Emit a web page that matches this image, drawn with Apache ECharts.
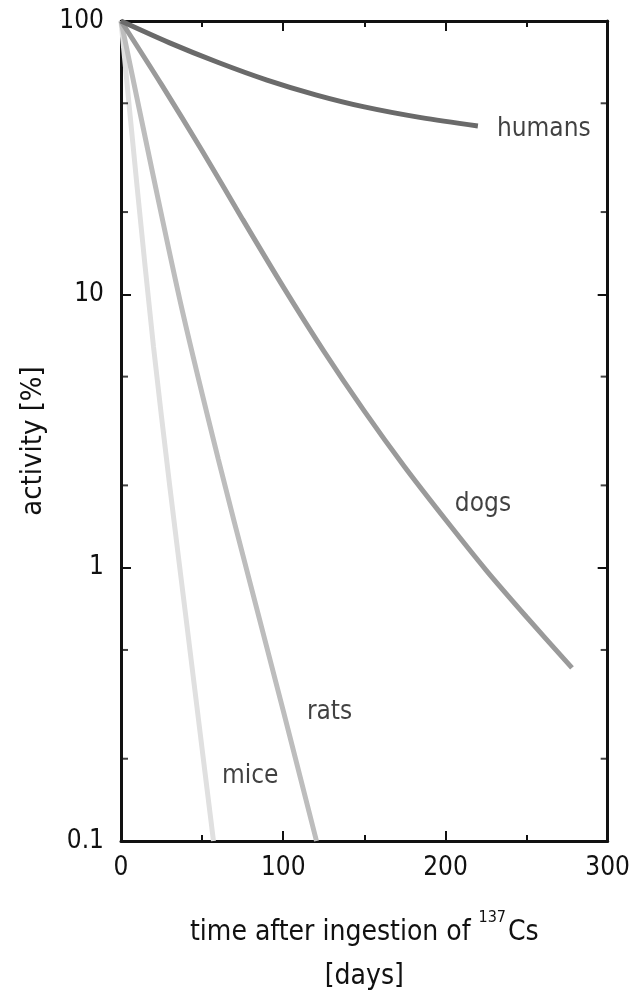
<!DOCTYPE html>
<html>
<head>
<meta charset="utf-8">
<script src="https://cdn.jsdelivr.net/npm/echarts@6/dist/echarts.min.js"></script>
<style>
html,body{margin:0;padding:0;background:#fff;}
#chart{width:633px;height:1004px;}
</style>
</head>
<body>
<div id="chart"></div>
<script>
// ---- data ----
const humansT = [0, 30, 60, 90, 120, 150, 185, 220];
const humansV = [100, 83.2, 70.5, 60.8, 53.7, 48.5, 44.3, 41.3];

const dogsT = [0, 25, 50, 75, 100, 125, 150, 175, 200, 225, 250, 278];
const dogsV = [100, 58.5, 33.5, 18.8, 10.65, 6.2, 3.74, 2.33, 1.5, 0.98, 0.66, 0.43];

const ratsT = [0, 20, 38, 60, 80, 100, 120.5];
const ratsV = [100, 26.9, 8.61, 2.49, 0.86, 0.3, 0.1];

const miceT = [0, 10, 20, 30, 40, 50, 57];
const miceV = [100, 24.5, 6.46, 2.0, 0.66, 0.217, 0.1];

const labelNames = ['humans', 'dogs', 'rats', 'mice'];
const labelT = [231.7, 205.8, 114.6, 62.2];
const labelV = [40.3, 1.7, 0.295, 0.172];

const xTicks = [0, 100, 200, 300];
const yTicks = [0.1, 1, 10, 100];
const yMinorTicks = [0.2, 0.5, 2, 5, 20, 50];

// ---- chart ----
const FONT = "'Liberation Sans Narrow', 'DejaVu Sans Condensed', 'Roboto', sans-serif";
const pairs = (T, V) => T.map((t, i) => [t, V[i]]);
const AX = '#111';
const TXT = '#111';

function lineSeries(name, T, V, color) {
  return {
    name, type: 'line', data: pairs(T, V), smooth: 0.3,
    showSymbol: false, symbol: 'none', xAxisIndex: 0, yAxisIndex: 0,
    lineStyle: { color, width: 5, cap: 'butt' }, z: 2, silent: true, animation: false
  };
}

const chart = echarts.init(document.getElementById('chart'), null, { renderer: 'canvas' });
const option = {
  animation: false,
  backgroundColor: '#fff',
  textStyle: { fontFamily: FONT },
  grid: { left: 121, right: 25, top: 21, bottom: 154, containLabel: false },
  xAxis: [
    {
      type: 'value', min: xTicks[0], max: xTicks[xTicks.length - 1], interval: 100,
      position: 'bottom',
      axisLine: { show: true, onZero: false, lineStyle: { color: AX, width: 3 } },
      axisTick: { show: true, inside: true, length: 10, lineStyle: { color: AX, width: 2 } },
      minorTick: { show: true, splitNumber: 2, length: 6, lineStyle: { color: AX, width: 2 } },
      splitLine: { show: false },
      axisLabel: { fontSize: 26, color: TXT, margin: 14, fontFamily: FONT },
      name: 'time after ingestion of {sup|137}Cs\n[days]',
      nameLocation: 'middle', nameGap: 70,
      nameTextStyle: {
        fontSize: 28, color: TXT, fontFamily: FONT, lineHeight: 44,
        rich: { sup: { fontSize: 16, fontFamily: FONT, color: TXT, padding: [0, 2, 30, 0] } }
      }
    },
    {
      type: 'value', min: xTicks[0], max: xTicks[xTicks.length - 1], interval: 100,
      position: 'top',
      axisLine: { show: true, onZero: false, lineStyle: { color: AX, width: 3 } },
      axisTick: { show: true, inside: true, length: 10, lineStyle: { color: AX, width: 2 } },
      minorTick: { show: true, splitNumber: 2, length: 6, lineStyle: { color: AX, width: 2 } },
      splitLine: { show: false }, axisLabel: { show: false }
    }
  ],
  yAxis: [
    {
      type: 'log', logBase: 10, min: yTicks[0], max: yTicks[yTicks.length - 1],
      position: 'left',
      axisLine: { show: true, onZero: false, lineStyle: { color: AX, width: 3 } },
      axisTick: { show: true, inside: true, length: 10, lineStyle: { color: AX, width: 2 } },
      splitLine: { show: false },
      axisLabel: { fontSize: 26, color: TXT, margin: 17, fontFamily: FONT,
        formatter: v => String(+v.toPrecision(3)) },
      name: 'activity [%]', nameLocation: 'middle', nameGap: 54, nameRotate: 90,
      nameTextStyle: { fontSize: 29, color: TXT, fontFamily: FONT, padding: [0, 20, 0, 0] }
    },
    {
      type: 'log', logBase: 10, min: yTicks[0], max: yTicks[yTicks.length - 1],
      position: 'right',
      axisLine: { show: true, onZero: false, lineStyle: { color: AX, width: 3 } },
      axisTick: { show: true, inside: true, length: 10, lineStyle: { color: AX, width: 2 } },
      splitLine: { show: false }, axisLabel: { show: false }
    }
  ],
  series: [
    lineSeries('mice', miceT, miceV, '#e0e0e0'),
    lineSeries('rats', ratsT, ratsV, '#bdbdbd'),
    lineSeries('dogs', dogsT, dogsV, '#9a9a9a'),
    lineSeries('humans', humansT, humansV, '#6a6a6a'),
    {
      name: 'minorTicksLeft', type: 'scatter', xAxisIndex: 0, yAxisIndex: 0,
      data: yMinorTicks.map(v => [xTicks[0], v]),
      symbol: 'rect', symbolSize: [7, 2], symbolOffset: [3.5, 0],
      itemStyle: { color: AX }, silent: true, z: 5, clip: false
    },
    {
      name: 'minorTicksRight', type: 'scatter', xAxisIndex: 0, yAxisIndex: 0,
      data: yMinorTicks.map(v => [xTicks[xTicks.length - 1], v]),
      symbol: 'rect', symbolSize: [7, 2], symbolOffset: [-3.5, 0],
      itemStyle: { color: AX }, silent: true, z: 5, clip: false
    },
    {
      name: 'labels', type: 'scatter', xAxisIndex: 0, yAxisIndex: 0,
      data: labelNames.map((n, i) => ({ name: n, value: [labelT[i], labelV[i]] })),
      symbolSize: 0, silent: true, z: 6,
      label: { show: true, position: 'right', distance: 0, formatter: p => p.name,
        fontSize: 26, color: TXT, fontFamily: FONT }
    }
  ]
};
chart.setOption(option);
</script>
</body>
</html>
